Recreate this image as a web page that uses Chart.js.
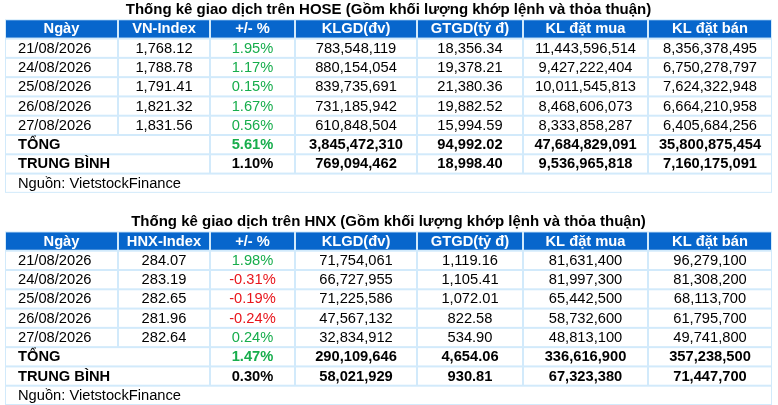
<!DOCTYPE html>
<html lang="vi">
<head>
  <meta charset="UTF-8" />
  <title>Thống kê giao dịch</title>
  <script src="https://cdn.jsdelivr.net/npm/chart.js@4"></script>
  <style>
    body { margin: 0; background: #fff; }
    #wrap { width: 778px; height: 405px; position: relative; }
  </style>
</head>
<body>
  <div id="wrap"><canvas id="tableChart"></canvas></div>

  <script>
    // ---- data ----
    const dates = ["21/08/2026", "24/08/2026", "25/08/2026", "26/08/2026", "27/08/2026"];

    const hoseTitle = "Thống kê giao dịch trên HOSE (Gồm khối lượng khớp lệnh và thỏa thuận)";
    const hoseHeaders = ["Ngày", "VN-Index", "+/- %", "KLGD(đv)", "GTGD(tỷ đ)", "KL đặt mua", "KL đặt bán"];
    const hoseIndex = [1768.12, 1788.78, 1791.41, 1821.32, 1831.56];
    const hoseChange = [1.95, 1.17, 0.15, 1.67, 0.56];
    const hoseVolume = [783548119, 880154054, 839735691, 731185942, 610848504];
    const hoseValue = [18356.34, 19378.21, 21380.36, 19882.52, 15994.59];
    const hoseBuy = [11443596514, 9427222404, 10011545813, 8468606073, 8333858287];
    const hoseSell = [8356378495, 6750278797, 7624322948, 6664210958, 6405684256];
    const hoseTotal = [5.61, 3845472310, 94992.02, 47684829091, 35800875454];
    const hoseAvg = [1.10, 769094462, 18998.40, 9536965818, 7160175091];

    const hnxTitle = "Thống kê giao dịch trên HNX (Gồm khối lượng khớp lệnh và thỏa thuận)";
    const hnxHeaders = ["Ngày", "HNX-Index", "+/- %", "KLGD(đv)", "GTGD(tỷ đ)", "KL đặt mua", "KL đặt bán"];
    const hnxIndex = [284.07, 283.19, 282.65, 281.96, 282.64];
    const hnxChange = [1.98, -0.31, -0.19, -0.24, 0.24];
    const hnxVolume = [71754061, 66727955, 71225586, 47567132, 32834912];
    const hnxValue = [1119.16, 1105.41, 1072.01, 822.58, 534.90];
    const hnxBuy = [81631400, 81997300, 65442500, 58732600, 48813100];
    const hnxSell = [96279100, 81308200, 68113700, 61795700, 49741800];
    const hnxTotal = [1.47, 290109646, 4654.06, 336616900, 357238500];
    const hnxAvg = [0.30, 58021929, 930.81, 67323380, 71447700];

    const totalLabel = "TỔNG";
    const avgLabel = "TRUNG BÌNH";
    const sourceText = "Nguồn: VietstockFinance";

    // ---- layout / style ----
    const colEdges = [5, 118, 210, 295, 417, 523, 648, 772];  // x-scale units
    const FONT = 'Arial, "Liberation Sans", sans-serif';
    const BLUE = "#0766cc";
    const LINE = "#d2eafb";
    const GREEN = "#17ad4c";
    const RED = "#e8151b";

    const fmt2 = v => v.toLocaleString("en-US", { minimumFractionDigits: 2, maximumFractionDigits: 2 });
    const fmtInt = v => v.toLocaleString("en-US");
    const fmtPct = v => v.toFixed(2) + "%";

    function buildTable(title, headers, idx, chg, vol, val, buy, sell, tot, avg) {
      const rows = dates.map((d, i) => ({
        cells: [d, fmt2(idx[i]), fmtPct(chg[i]), fmtInt(vol[i]), fmt2(val[i]), fmtInt(buy[i]), fmtInt(sell[i])],
        pctColor: chg[i] < 0 ? RED : GREEN
      }));
      return { title, headers, rows,
        total: [fmtPct(tot[0]), fmtInt(tot[1]), fmt2(tot[2]), fmtInt(tot[3]), fmtInt(tot[4])],
        totalColor: tot[0] < 0 ? RED : GREEN,
        avg: [fmtPct(avg[0]), fmtInt(avg[1]), fmt2(avg[2]), fmtInt(avg[3]), fmtInt(avg[4])] };
    }

    const tables = [
      buildTable(hoseTitle, hoseHeaders, hoseIndex, hoseChange, hoseVolume, hoseValue, hoseBuy, hoseSell, hoseTotal, hoseAvg),
      buildTable(hnxTitle, hnxHeaders, hnxIndex, hnxChange, hnxVolume, hnxValue, hnxBuy, hnxSell, hnxTotal, hnxAvg)
    ];

    // one category per table row (title, header, 5 days, total, avg, source), a spacer between tables
    const rowLabels = [];
    tables.forEach((t, ti) => {
      if (ti > 0) rowLabels.push("gap" + ti);
      rowLabels.push("title" + ti, "head" + ti);
      dates.forEach(d => rowLabels.push(d + "#" + ti));
      rowLabels.push("total" + ti, "avg" + ti, "src" + ti);
    });

    const tablePlugin = {
      id: "tablePlugin",
      afterDraw(chart) {
        const ctx = chart.ctx;
        const xs = chart.scales.x, ys = chart.scales.y;
        const X = i => xs.getPixelForValue(colEdges[i]);
        const rowH = ys.getPixelForValue(1) - ys.getPixelForValue(0);
        const top = r => ys.getPixelForValue(r) - rowH / 2;

        function cell(r, c0, c1, fill) {
          ctx.fillStyle = fill;
          ctx.fillRect(X(c0) + 1, top(r) + 1, X(c1) - X(c0) - 2, rowH - 2);
        }
        function text(str, r, c0, c1, opts) {
          ctx.save();
          ctx.font = (opts.bold ? "bold " : "") + opts.size + "px " + FONT;
          ctx.fillStyle = opts.color || "#000";
          ctx.textBaseline = "middle";
          const y = ys.getPixelForValue(r) + 0.5;
          if (opts.left) {
            ctx.textAlign = "left";
            ctx.fillText(str, X(c0) + 13, y);
          } else {
            ctx.textAlign = "center";
            ctx.fillText(str, (X(c0) + X(c1)) / 2, y);
          }
          ctx.restore();
        }

        ctx.save();
        tables.forEach((t, ti) => {
          const r0 = rowLabels.indexOf("title" + ti);
          const rHead = r0 + 1, rFirst = r0 + 2;
          const rTot = rFirst + dates.length, rAvg = rTot + 1, rSrc = rAvg + 1;

          // title
          text(t.title, r0, 0, 7, { bold: true, size: 15, color: "#000" });

          // grid background
          ctx.fillStyle = LINE;
          ctx.fillRect(X(0), top(rHead), X(7) - X(0), top(rSrc) + rowH - top(rHead));

          // header
          t.headers.forEach((h, c) => {
            cell(rHead, c, c + 1, BLUE);
            text(h, rHead, c, c + 1, { bold: true, size: 14.7, color: "#fff" });
          });

          // day rows
          t.rows.forEach((row, i) => {
            const r = rFirst + i;
            row.cells.forEach((v, c) => {
              cell(r, c, c + 1, "#fff");
              text(v, r, c, c + 1, { size: 14.7, left: c === 0, color: c === 2 ? row.pctColor : "#000" });
            });
          });

          // total + average (label spans first two columns)
          [[rTot, totalLabel, t.total, t.totalColor], [rAvg, avgLabel, t.avg, "#000"]].forEach(([r, lab, vals, pc]) => {
            cell(r, 0, 2, "#fff");
            text(lab, r, 0, 2, { bold: true, size: 14.7, left: true });
            vals.forEach((v, k) => {
              cell(r, k + 2, k + 3, "#fff");
              text(v, r, k + 2, k + 3, { bold: true, size: 14.7, color: k === 0 ? pc : "#000" });
            });
          });

          // source row
          cell(rSrc, 0, 7, "#fff");
          text(sourceText, rSrc, 0, 7, { size: 14.7, left: true });
        });
        ctx.restore();
      }
    };

    new Chart(document.getElementById("tableChart").getContext("2d"), {
      type: "scatter",
      data: { labels: rowLabels, datasets: [{ data: [] }] },
      options: {
        responsive: true,
        maintainAspectRatio: false,
        animation: false,
        layout: { padding: 0 },
        plugins: { legend: { display: false }, tooltip: { enabled: false } },
        scales: {
          x: { type: "linear", min: 0, max: 778, display: false },
          y: { type: "category", labels: rowLabels, offset: true, display: false }
        }
      },
      plugins: [tablePlugin]
    });
  </script>
</body>
</html>
